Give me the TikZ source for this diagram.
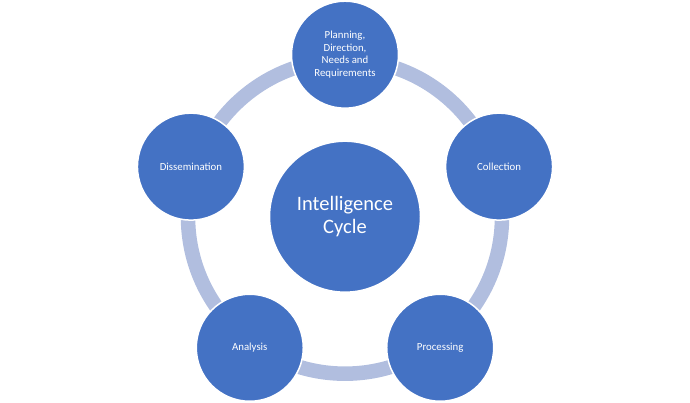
\documentclass[tikz,border=0pt]{standalone}
\usepackage{fontspec}
\setmainfont{Carlito}
\usetikzlibrary{calc}
\definecolor{cblue}{HTML}{4472C4}
\definecolor{ring}{HTML}{B1BEDF}
\begin{document}
\begin{tikzpicture}[x=1pt,y=1pt,
  stage/.style={circle,fill=cblue,draw=white,line width=1.5pt,minimum size=107pt,inner sep=0pt,
    text=white,align=center,font=\fontsize{10.8}{12.8}\selectfont},
  hub/.style={circle,fill=cblue,draw=white,line width=1.5pt,minimum size=151pt,inner sep=0pt,
    text=white,align=center,font=\fontsize{20.5}{23}\selectfont}]
\useasboundingbox (0,0) rectangle (690,403);
\coordinate (c) at (345,186.3);
\draw[ring,line width=14.5pt] (c) circle[radius=157];
\node[hub] (hub) at (c) {Intelligence\\Cycle};
\node[stage] (plan) at ($(c)+(90:162)$) {Planning,\\Direction,\\Needs and\\Requirements};
\node[stage] (coll) at ($(c)+(18:162)$) {Collection};
\node[stage] (proc) at ($(c)+(-54:162)$) {Processing};
\node[stage] (anal) at ($(c)+(-126:162)$) {Analysis};
\node[stage] (diss) at ($(c)+(162:162)$) {Dissemination};
\end{tikzpicture}
\end{document}
